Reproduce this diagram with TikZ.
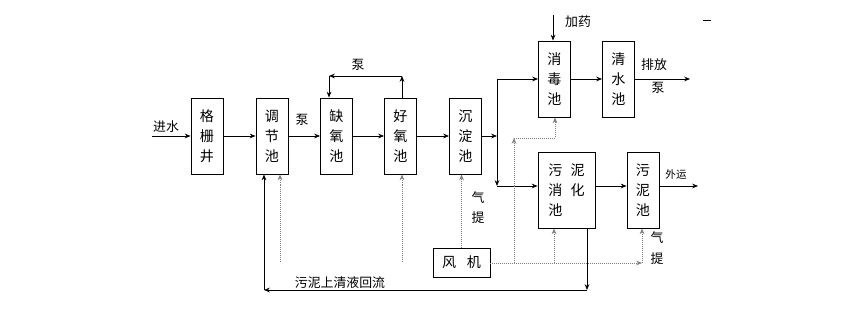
\documentclass[tikz,border=0pt]{standalone}
\usepackage{fontspec}
\newfontfamily\cjk{Noto Sans CJK SC}
\usetikzlibrary{arrows.meta}
\tikzset{
  pool/.style={draw, line width=0.7pt, minimum width=0.96cm, minimum height=2.28cm,
    inner sep=0pt, align=center, font=\cjk\fontsize{12}{17}\selectfont},
  flow/.style={->, line width=0.7pt},
  air/.style={->, gray, densely dotted, line width=0.7pt},
  lbl/.style={inner sep=1pt, font=\cjk\fontsize{11}{13}\selectfont},
}
\begin{document}
\begin{tikzpicture}[x=0.03cm, y=-0.03cm, >={Stealth[length=5pt,width=4pt]}]
\useasboundingbox (0,0) rectangle (866,316);
% pools
\foreach \nm/\x/\y/\txt in {gs/207/136/{格\\栅\\井}, tj/272/136/{调\\节\\池},
  qy/336.5/136/{缺\\氧\\池}, hy/400.5/136/{好\\氧\\池}, cd/465.5/136/{沉\\淀\\池},
  xd/554.5/79/{消\\毒\\池}, qs/618.5/79/{清\\水\\池}, wn/643/190/{污\\泥\\池}}
  \node[pool] (\nm) at (\x,\y) {\txt};
\node[pool, minimum width=1.71cm, align=left] (wnxh) at (566.5,190)
  {污\hspace{7pt}泥\\消\hspace{7pt}化\\池};
\node[pool, minimum width=1.71cm, minimum height=0.87cm] (fj) at (461.5,262.5)
  {风\hspace{9pt}机};
% main line
\coordinate (in) at (152,136);
\coordinate (split) at (497,136);
\draw[flow] (in) -- (gs);
\draw[flow] (gs) -- (tj);
\draw[flow] (tj) -- (qy);
\draw[flow] (qy) -- (hy);
\draw[flow] (hy) -- (cd);
\draw[flow] (cd) -- (split);
\node[lbl] (jinshui) at (166,127) {进水};
\node[lbl] (beng1) at (302,120) {泵};
% nitrate return
\coordinate (lpR) at (402,76);
\coordinate (lpL) at (329,76);
\draw[flow] (lpR |- hy.north) -- (lpR);
\draw[flow] (lpR) -- (lpL);
\draw[flow] (lpL) -- (lpL |- qy.north);
\node[lbl] (beng2) at (358,65) {泵};
% split to disinfection / digestion
\coordinate (splitT) at (497,79);
\coordinate (splitB) at (497,186);
\draw[flow] (splitT) -- (splitB);
\draw[flow] (splitT) -- (xd);
\draw[flow] (splitB) -- (splitB -| wnxh.west);
% disinfection, clear water
\coordinate (dose) at (553,15);
\coordinate (out1) at (690,79);
\draw[flow] (dose) -- (dose |- xd.north);
\node[lbl] (jiayao) at (578,22) {加药};
\draw[flow] (xd) -- (qs);
\draw[flow] (qs) -- (out1);
\node[lbl] (paifang) at (654,65) {排放};
\node[lbl] (beng3) at (658,88) {泵};
\draw[line width=0.7pt] (703,20) -- (711,20);
% sludge
\coordinate (out2) at (698,186);
\draw[flow] (splitB -| wnxh.east) -- (splitB -| wn.west);
\draw[flow] (splitB -| wn.east) -- (out2);
\node[lbl, font=\cjk\fontsize{9}{11}\selectfont] (waiyun) at (676,175) {外运};
% supernatant return
\coordinate (rb) at (587,290);
\coordinate (lb) at (264,290);
\draw[flow] (rb |- wnxh.south) -- (rb);
\draw[flow] (rb) -- (lb);
\draw[flow] (lb) -- (lb |- tj.south);
\node[lbl] (huiliu) at (340,283) {污泥上清液回流};
% air lift
\coordinate (a1) at (642,263);
\coordinate (a2) at (514,263);
\coordinate (a2T) at (514,138);
\coordinate (a3) at (555,138);
\coordinate (a4) at (554,263);
\draw[air] (fj.north) -- (fj.north |- cd.south);
\draw[air] (fj.east |- a1) -- (a1);
\draw[air] (a1) -- (a1 |- wn.south);
\draw[air] (a2) -- (a2T);
\draw[air] (a2T) -- (a3) -- (a3 |- xd.south);
\draw[air] (a4) -- (a4 |- wnxh.south);
\coordinate (t1) at (280,262);
\coordinate (t2) at (402,262);
\draw[air] (t1) -- (t1 |- tj.south);
\draw[air] (t2) -- (t2 |- hy.south);
\node[lbl] (qi1) at (478,198) {气};
\node[lbl] (ti1) at (478,218) {提};
\node[lbl] (qi2) at (657,238) {气};
\node[lbl] (ti2) at (657,259) {提};
\end{tikzpicture}
\end{document}
